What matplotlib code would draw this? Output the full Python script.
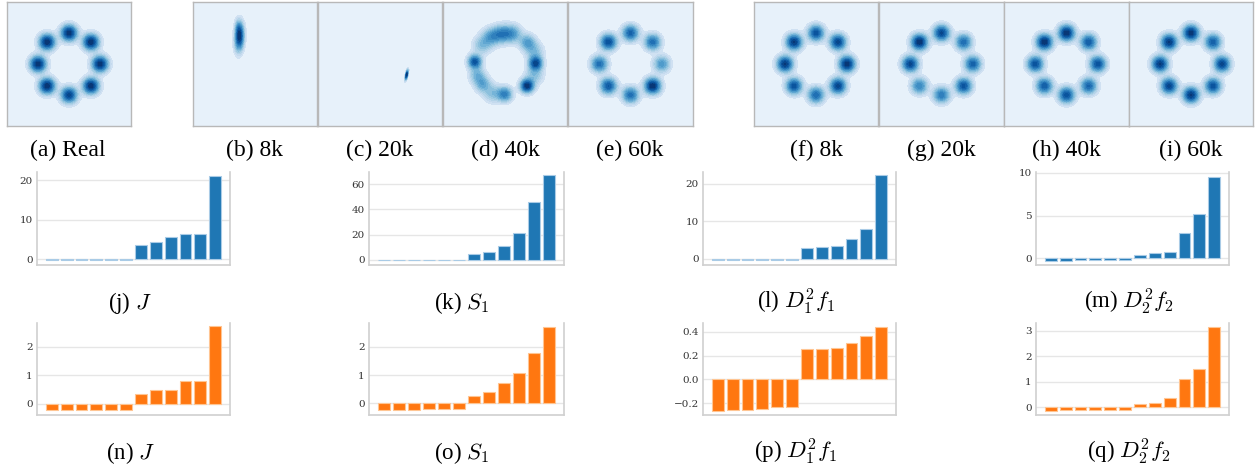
import numpy as np
import matplotlib.pyplot as plt

plt.rcParams['font.family'] = 'Liberation Serif'
plt.rcParams['mathtext.fontset'] = 'cm'

W, H = 1257, 471

# ---- density panels (mixture components) ----
ring_angle = [0, 45, 90, 135, 180, 225, 270, 315]   # right, then counter-clockwise
ring_radius = 2.0
ring_sigma = 0.36

real_w = [1.0, 1.0, 1.0, 1.0, 1.0, 1.0, 0.9, 1.0]
e_w = [0.6, 0.8, 0.85, 0.95, 0.8, 0.9, 0.8, 1.1]
f_w = [1.0, 0.9, 0.85, 0.95, 0.95, 0.85, 0.75, 0.9]
g_w = [0.75, 0.7, 0.85, 0.95, 0.85, 0.6, 0.65, 0.8]
h_w = [0.9, 0.85, 1.05, 1.05, 0.9, 0.85, 0.9, 0.8]
i_w = [0.9, 0.8, 1.0, 0.95, 0.95, 0.9, 0.95, 0.85]

b_x, b_y, b_w = [-1.0, -1.08], [1.7, 2.35], [1.0, 0.3]
b_sx, b_sy, b_rot = [0.2, 0.15], [0.6, 0.4], [-3, 0]

c_x, c_y, c_w = [1.72], [-0.7], [1.0]
c_sx, c_sy, c_rot = [0.05], [0.22], [-12]

d_x = [1.98, 1.42, 0.0, -1.95, -0.9, -0.2, 0.5, 1.45, -1.5, -1.45, -1.8, -0.8, 1.9, 1.9]
d_y = [0.05, -1.42, -1.95, 0.15, 1.75, 1.95, 1.95, 1.4, 1.2, -1.3, -0.7, -1.9, 0.8, -0.7]
d_w = [0.85, 1.0, 0.65, 0.85, 0.5, 0.55, 0.5, 0.5, 0.35, 0.45, 0.4, 0.35, 0.35, 0.35]
d_s = [0.3, 0.3, 0.33, 0.3, 0.4, 0.4, 0.4, 0.35, 0.4, 0.35, 0.35, 0.4, 0.4, 0.4]

# ---- bar panels ----
j_vals = [-0.3, -0.3, -0.3, -0.3, -0.3, -0.3, 3.7, 4.3, 5.5, 6.4, 6.4, 21.0]
k_vals = [-0.3, -0.3, -0.3, -0.3, -0.3, -0.3, 5.0, 6.5, 11.0, 21.5, 46.0, 67.0]
l_vals = [-0.3, -0.3, -0.3, -0.3, -0.3, -0.3, 2.9, 3.1, 3.4, 5.4, 8.0, 22.3]
m_vals = [-0.28, -0.28, -0.27, -0.26, -0.25, -0.25, 0.35, 0.6, 0.7, 2.9, 5.2, 9.5]
n_vals = [-0.23, -0.23, -0.23, -0.22, -0.2, -0.2, 0.35, 0.5, 0.5, 0.82, 0.82, 2.72]
o_vals = [-0.23, -0.23, -0.23, -0.22, -0.2, -0.2, 0.27, 0.4, 0.7, 1.08, 1.8, 2.7]
p_vals = [-0.265, -0.26, -0.255, -0.25, -0.235, -0.235, 0.255, 0.26, 0.265, 0.305, 0.365, 0.445]
q_vals = [-0.15, -0.1, -0.1, -0.1, -0.1, -0.1, 0.12, 0.18, 0.35, 1.12, 1.5, 3.15]

fig = plt.figure(figsize=(W / 100, H / 100), dpi=100)


def px_axes(x0, y0, x1, y1):
    return fig.add_axes([x0 / W, 1 - y1 / H, (x1 - x0) / W, (y1 - y0) / H])


gx, gy = np.meshgrid(np.linspace(-4, 4, 300), np.linspace(-4, 4, 300))


def mixture(xs, ys, ws, sxs, sys_, rots):
    z = np.zeros_like(gx)
    for x, y, w, sx, sy, r in zip(xs, ys, ws, sxs, sys_, rots):
        t = np.deg2rad(r)
        dx, dy = gx - x, gy - y
        u = dx * np.cos(t) + dy * np.sin(t)
        v = -dx * np.sin(t) + dy * np.cos(t)
        z += w * np.exp(-0.5 * (u / sx) ** 2 - 0.5 * (v / sy) ** 2)
    return z


def ring(weights):
    a = np.deg2rad(ring_angle)
    n = len(weights)
    return mixture(ring_radius * np.cos(a), ring_radius * np.sin(a), weights,
                   [ring_sigma] * n, [ring_sigma] * n, [0] * n)


bg_color = plt.cm.Blues(0.08)
band_colors = [bg_color] + [plt.cm.Blues(t) for t in np.linspace(0.2, 0.97, 15)]


def density_panel(x0, x1, z):
    ax = px_axes(x0, 2, x1, 126)
    levels = np.concatenate([[0], np.linspace(0.08, 1.0, 16)]) * z.max()
    ax.contourf(gx, gy, z, levels=levels, colors=band_colors)
    ax.set_facecolor(bg_color)
    ax.set_xlim(-4, 4)
    ax.set_ylim(-4, 4)
    ax.set_xticks([])
    ax.set_yticks([])
    for s in ax.spines.values():
        s.set_color('#b8b8b8')
        s.set_linewidth(1.0)
    return ax


density_panel(7, 131, ring(real_w))
density_panel(193, 317, mixture(b_x, b_y, b_w, b_sx, b_sy, b_rot))
density_panel(318, 442, mixture(c_x, c_y, c_w, c_sx, c_sy, c_rot))
density_panel(443, 567, mixture(d_x, d_y, d_w, d_s, d_s, [0] * len(d_x)))
density_panel(568, 693, ring(e_w))
density_panel(754, 878, ring(f_w))
density_panel(879, 1004, ring(g_w))
density_panel(1004, 1129, ring(h_w))
density_panel(1129, 1253, ring(i_w))

top_caps = [(68, '(a) Real'), (255, '(b) 8k'), (380, '(c) 20k'), (505, '(d) 40k'),
            (630, '(e) 60k'), (816, '(f) 8k'), (941, '(g) 20k'), (1066, '(h) 40k'),
            (1191, '(i) 60k')]
for x, s in top_caps:
    fig.text(x / W, 1 - 156 / H, s, ha='center', va='baseline', fontsize=17)


def bar_panel(x0, y0, x1, y1, vals, color, edge, ylim, ticks, labels=None):
    ax = px_axes(x0, y0, x1, y1)
    ax.set_axisbelow(True)
    ax.yaxis.grid(True, color='#e6e6e6', linewidth=1.0)
    ax.bar(np.arange(len(vals)), vals, width=0.8, color=color,
           edgecolor=edge, linewidth=0.8)
    ax.set_xlim(-1, 12)
    ax.set_ylim(*ylim)
    ax.set_xticks([])
    ax.set_yticks(ticks)
    if labels is not None:
        ax.set_yticklabels(labels)
    ax.tick_params(axis='y', length=0, pad=3, labelsize=7.5, labelcolor='#333333')
    for lab in ax.get_yticklabels():
        lab.set_family('DejaVu Serif')
    ax.spines['top'].set_visible(False)
    for side in ['left', 'right', 'bottom']:
        ax.spines[side].set_color('#d0d0d0')
        ax.spines[side].set_linewidth(1.2)
    return ax


blue, blue_edge = '#1f77b4', '#a9cbe6'
orange, orange_edge = '#ff7710', '#ffc592'
cols = [(37, 230), (369, 564), (703, 896), (1036, 1229)]

bar_panel(cols[0][0], 172, cols[0][1], 265, j_vals, blue, blue_edge, (-1.5, 22.1), [0, 10, 20])
bar_panel(cols[1][0], 172, cols[1][1], 265, k_vals, blue, blue_edge, (-4, 69.5), [0, 20, 40, 60])
bar_panel(cols[2][0], 172, cols[2][1], 265, l_vals, blue, blue_edge, (-1.6, 23.2), [0, 10, 20])
bar_panel(cols[3][0], 172, cols[3][1], 265, m_vals, blue, blue_edge, (-0.8, 10.1), [0, 5, 10])

bar_panel(cols[0][0], 323, cols[0][1], 415, n_vals, orange, orange_edge, (-0.39, 2.84), [0, 1, 2])
bar_panel(cols[1][0], 323, cols[1][1], 415, o_vals, orange, orange_edge, (-0.42, 2.85), [0, 1, 2])
bar_panel(cols[2][0], 323, cols[2][1], 415, p_vals, orange, orange_edge, (-0.3, 0.475),
          [-0.2, 0.0, 0.2, 0.4], ['\u22120.2', '0.0', '0.2', '0.4'])
bar_panel(cols[3][0], 323, cols[3][1], 415, q_vals, orange, orange_edge, (-0.3, 3.3), [0, 1, 2, 3])

row2_caps = [(130, '(j) $J$'), (462, '(k) $S_1$'), (796, '(l) $D_1^2 f_1$'),
             (1129, '(m) $D_2^2 f_2$')]
row3_caps = [(130, '(n) $J$'), (462, '(o) $S_1$'), (796, '(p) $D_1^2 f_1$'),
             (1129, '(q) $D_2^2 f_2$')]
for x, s in row2_caps:
    fig.text(x / W, 1 - 309 / H, s, ha='center', va='baseline', fontsize=16.5)
for x, s in row3_caps:
    fig.text(x / W, 1 - 459 / H, s, ha='center', va='baseline', fontsize=16.5)

fig.savefig('out.png', dpi=100)
